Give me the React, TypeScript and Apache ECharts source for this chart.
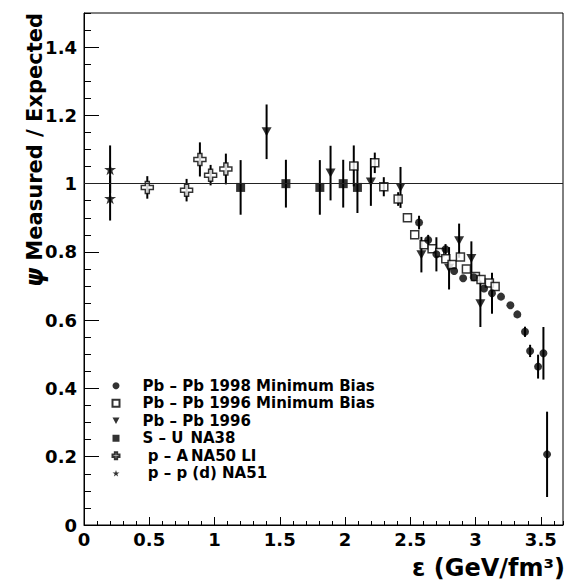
import React, { useEffect, useRef } from 'react';
import * as echarts from 'echarts';

// [energy density, ratio, error]
const pbpb1998MinBias: number[][] = [
  [2.567, 0.886, 0.02], [2.637, 0.835, 0.015], [2.70, 0.793, 0.05], [2.77, 0.808, 0.015],
  [2.836, 0.744, 0], [2.905, 0.723, 0], [2.986, 0.726, 0], [3.065, 0.693, 0],
  [3.126, 0.679, 0.06], [3.195, 0.669, 0], [3.267, 0.644, 0], [3.32, 0.617, 0],
  [3.379, 0.566, 0.015], [3.418, 0.51, 0.018], [3.479, 0.464, 0.035], [3.52, 0.503, 0.077],
  [3.548, 0.207, 0.125],
];
const pbpb1996MinBias: number[][] = [
  [2.067, 1.052, 0.06], [2.228, 1.061, 0.03], [2.297, 0.991, 0.028], [2.407, 0.955, 0.02],
  [2.478, 0.9, 0], [2.534, 0.85, 0], [2.606, 0.821, 0], [2.667, 0.809, 0],
  [2.726, 0.798, 0], [2.772, 0.78, 0], [2.82, 0.763, 0], [2.884, 0.785, 0],
  [2.93, 0.75, 0], [2.999, 0.728, 0], [3.042, 0.719, 0], [3.106, 0.709, 0], [3.15, 0.699, 0],
];
const pbpb1996: number[][] = [
  [1.399, 1.152, 0.08], [1.889, 1.031, 0.08], [2.198, 1.005, 0.07], [2.425, 0.989, 0.06],
  [2.585, 0.792, 0.052], [2.797, 0.752, 0.062], [2.874, 0.833, 0.05], [2.968, 0.781, 0.05],
  [3.037, 0.648, 0.068],
];
const suNA38: number[][] = [
  [1.2, 0.989, 0.08], [1.547, 1.0, 0.07], [1.807, 0.989, 0.08], [1.986, 1.0, 0.07], [2.095, 0.989, 0.075],
];
const paNA50: number[][] = [
  [0.485, 0.989, 0.033], [0.786, 0.981, 0.033], [0.888, 1.071, 0.05], [0.97, 1.025, 0.03], [1.087, 1.043, 0.045],
];
const ppNA51: number[][] = [
  [0.2, 1.042, 0.07], [0.2, 0.957, 0.065],
];

const seriesNames = [
  'Pb – Pb 1998 Minimum Bias',
  'Pb – Pb 1996 Minimum Bias',
  'Pb – Pb 1996',
  'S – U NA38',
  'p – A NA50 LI',
  'p – p (d) NA51',
];

const X_MIN = 0;
const X_MAX = 3.67;
const Y_MIN = 0;
const Y_MAX = 1.5;
const REFERENCE_LEVEL = 1;

const FONT = 'DejaVu Sans';
const CROSS = 'path://M4,0H8V4H12V8H8V12H4V8H0V4H4Z';
const STAR = 'path://M50,0L61,35H98L68,57L79,91L50,70L21,91L32,57L2,35H39Z';
const DOWN_TRI = 'path://M0,0L10,0L5,9Z';

export default function App() {
  const ref = useRef<HTMLDivElement>(null);
  useEffect(() => {
    const chart = echarts.init(ref.current!, null, { renderer: 'svg' });
    const allPoints = [
      ...pbpb1998MinBias, ...pbpb1996MinBias, ...pbpb1996, ...suNA38, ...paNA50, ...ppNA51,
    ];
    const legendFmt = (name: string) => {
      if (name === 'S – U NA38') return '{c|S – U}{d|NA38}';
      if (name === 'p – A NA50 LI') return '{c| p – A}{e|NA50 LI}';
      if (name === 'p – p (d) NA51') return '{c| p – p (d) NA51}';
      return '{c|' + name + '}';
    };
    const txt = { fontFamily: FONT, fontWeight: 'bold' as const, fontSize: 15, color: '#000', lineHeight: 17.5 };
    const option: any = {
      animation: false,
      backgroundColor: '#fff',
      grid: { left: 84, right: 6, top: 13, bottom: 61, show: true, borderColor: '#000', borderWidth: 1, outerBoundsMode: 'none', containLabel: false },
      xAxis: [
        {
          type: 'value', min: X_MIN, max: X_MAX, interval: 0.5, position: 'bottom',
          axisLine: { show: true, lineStyle: { color: '#000', width: 1 } },
          axisTick: { show: true, inside: true, length: 8, lineStyle: { color: '#000', width: 1 } },
          axisLabel: {
            show: true, margin: 5, showMaxLabel: false, color: '#000', fontFamily: FONT, fontWeight: 'bold', fontSize: 18,
            formatter: (v: number) => String(Math.round(v * 10) / 10),
          },
          splitLine: { show: false },
        },
        {
          type: 'value', min: X_MIN, max: X_MAX, interval: 0.1, position: 'bottom',
          axisLine: { show: false },
          axisTick: { show: true, inside: true, length: 4, lineStyle: { color: '#000', width: 1 } },
          axisLabel: { show: false },
          splitLine: { show: false },
        },
      ],
      yAxis: [
        {
          type: 'value', min: Y_MIN, max: Y_MAX, interval: 0.2, position: 'left',
          axisLine: { show: true, lineStyle: { color: '#000', width: 1 } },
          axisTick: { show: true, inside: true, length: 15, lineStyle: { color: '#000', width: 1 } },
          axisLabel: {
            show: true, margin: 7, showMaxLabel: false, color: '#000', fontFamily: FONT, fontWeight: 'bold', fontSize: 18,
            formatter: (v: number) => String(Math.round(v * 10) / 10),
          },
          splitLine: { show: false },
        },
        {
          type: 'value', min: Y_MIN, max: Y_MAX, interval: 0.05, position: 'left',
          axisLine: { show: false },
          axisTick: { show: true, inside: true, length: 7, lineStyle: { color: '#000', width: 1 } },
          axisLabel: { show: false },
          splitLine: { show: false },
        },
      ],
      legend: {
        orient: 'vertical', left: 111.5, top: 377, padding: 0, itemGap: 0,
        itemWidth: 7, itemHeight: 7, selectedMode: false,
        data: seriesNames,
        formatter: legendFmt,
        textStyle: {
          ...txt,
          rich: {
            c: { ...txt, padding: [0, 0, 0, 18] },
            d: { ...txt, padding: [0, 0, 0, 7] },
            e: { ...txt, padding: [0, 0, 0, 3] },
          },
        },
      },
      graphic: [
        {
          type: 'text', x: 35, y: 150, rotation: Math.PI / 2,
          style: {
            text: '{p|ψ} Measured / Expected',
            rich: {
              p: { fontFamily: FONT, fontWeight: 'bold', fontStyle: 'italic', fontSize: 24, fill: '#000' },
            },
            fontFamily: FONT, fontWeight: 'bold', fontSize: 21, fill: '#000',
            align: 'center', verticalAlign: 'middle', textAlign: 'center', textVerticalAlign: 'middle',
          },
        },
        {
          type: 'text', x: 565, y: 568,
          style: { text: 'ε (GeV/fm³)', fontFamily: FONT, fontWeight: 'bold', fontSize: 24, fill: '#000', align: 'right', verticalAlign: 'middle', textAlign: 'right', textVerticalAlign: 'middle' },
        },
      ],
      series: [
        {
          type: 'custom', name: 'errors', silent: true, z: 1, clip: true,
          data: allPoints, encode: { x: 0, y: 1 },
          renderItem: (params: any, api: any) => {
            const x = api.value(0), y = api.value(1), e = api.value(2);
            if (!e) return null;
            const p1 = api.coord([x, y - e]);
            const p2 = api.coord([x, y + e]);
            return { type: 'line', shape: { x1: p1[0], y1: p1[1], x2: p2[0], y2: p2[1] }, style: { stroke: '#000', lineWidth: 2 } };
          },
          markLine: {
            silent: true, symbol: ['none', 'none'], label: { show: false },
            lineStyle: { color: '#222', width: 1, type: 'solid' },
            data: [{ yAxis: REFERENCE_LEVEL }],
          },
        },
        { type: 'scatter', name: seriesNames[5], data: ppNA51, symbol: STAR, symbolSize: 12, itemStyle: { color: '#000' }, z: 3 },
        { type: 'scatter', name: seriesNames[4], data: paNA50, symbol: CROSS, symbolSize: 12, itemStyle: { color: '#fff', borderColor: '#000', borderWidth: 1.5 }, z: 3 },
        { type: 'scatter', name: seriesNames[3], data: suNA38, symbol: 'rect', symbolSize: 9, itemStyle: { color: '#000' }, z: 3 },
        { type: 'scatter', name: seriesNames[2], data: pbpb1996, symbol: DOWN_TRI, symbolSize: [10, 9], itemStyle: { color: '#000' }, z: 3 },
        { type: 'scatter', name: seriesNames[1], data: pbpb1996MinBias, symbol: 'rect', symbolSize: 8, itemStyle: { color: '#fff', borderColor: '#000', borderWidth: 1.5 }, z: 3 },
        { type: 'scatter', name: seriesNames[0], data: pbpb1998MinBias, symbol: 'circle', symbolSize: 8, itemStyle: { color: '#000' }, z: 3 },
      ],
    };
    chart.setOption(option);
    return () => chart.dispose();
  }, []);
  return <div ref={ref} style={{ position: 'fixed', left: 0, top: 0, width: 569, height: 586 }} />;
}
